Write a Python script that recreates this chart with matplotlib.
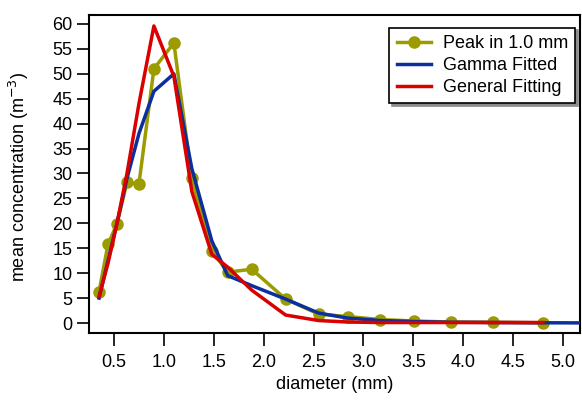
import matplotlib.pyplot as plt
import numpy as np

plt.rcParams['font.family'] = ['Liberation Sans', 'DejaVu Sans']

# bin centres (mm)
diameter = [0.35, 0.44, 0.53, 0.63, 0.75, 0.90, 1.10, 1.28, 1.48, 1.64,
            1.88, 2.22, 2.55, 2.84, 3.17, 3.51, 3.88, 4.30, 4.80]
peak = [6.3, 15.8, 19.9, 28.2, 27.9, 51.0, 56.2, 29.0, 14.5, 10.2,
        10.8, 4.8, 1.8, 1.3, 0.7, 0.4, 0.2, 0.15, 0.05]

gamma_d = diameter + [5.30]
gamma = [5.0, 12.5, 20.0, 29.0, 38.0, 46.5, 50.0, 31.0, 16.5, 9.5,
         7.5, 4.8, 2.0, 1.0, 0.5, 0.3, 0.15, 0.1, 0.05, 0.02]

general = [5.3, 12.0, 20.0, 30.0, 44.0, 59.6, 49.5, 26.4, 13.8, 11.2,
           6.6, 1.6, 0.5, 0.2, 0.1, 0.1, 0.1, 0.1, 0.1]

xticks = np.arange(0.5, 5.01, 0.5)
yticks = np.arange(0, 61, 5)

olive = '#9c9c00'
blue = '#0b2f9c'
red = '#d90000'
fs = 13

fig = plt.figure(figsize=(5.82, 4.01), dpi=100)
ax = fig.add_axes([0.153, 0.1696, 0.8436, 0.793])

ax.plot(diameter, peak, color=olive, lw=2.5, marker='o', ms=8,
        label='Peak in 1.0 mm', zorder=2)
ax.plot(gamma_d, gamma, color=blue, lw=2.5, label='Gamma Fitted', zorder=3)
ax.plot(diameter, general, color=red, lw=2.5, label='General Fitting', zorder=4)

ax.set_xlim(0.25, 5.17)
ax.set_ylim(-2, 61.8)
ax.set_xticks(xticks)
ax.set_xticklabels(['%.1f' % v for v in xticks])
ax.set_yticks(yticks)
ax.tick_params(direction='out', length=9, width=1.2, labelsize=fs)
ax.tick_params(axis='x', pad=6)
ax.tick_params(axis='y', pad=3)
for s in ax.spines.values():
    s.set_linewidth(1.5)

ax.set_xlabel('diameter (mm)', fontsize=fs, labelpad=4)
ax.set_ylabel('mean concentration (m$^{-3}$)', fontsize=fs)
ax.yaxis.set_label_coords(-0.118, 0.49)

leg = ax.legend(loc='upper right', bbox_to_anchor=(0.99, 0.96), fontsize=fs,
                fancybox=False, edgecolor='black', framealpha=1,
                handlelength=1.9, handletextpad=0.65, borderpad=0.4,
                borderaxespad=0.0, labelspacing=0.28,
                shadow={'color': '0.55', 'alpha': 1})
leg.get_frame().set_linewidth(1.2)

fig.savefig('out.png', dpi=100)
